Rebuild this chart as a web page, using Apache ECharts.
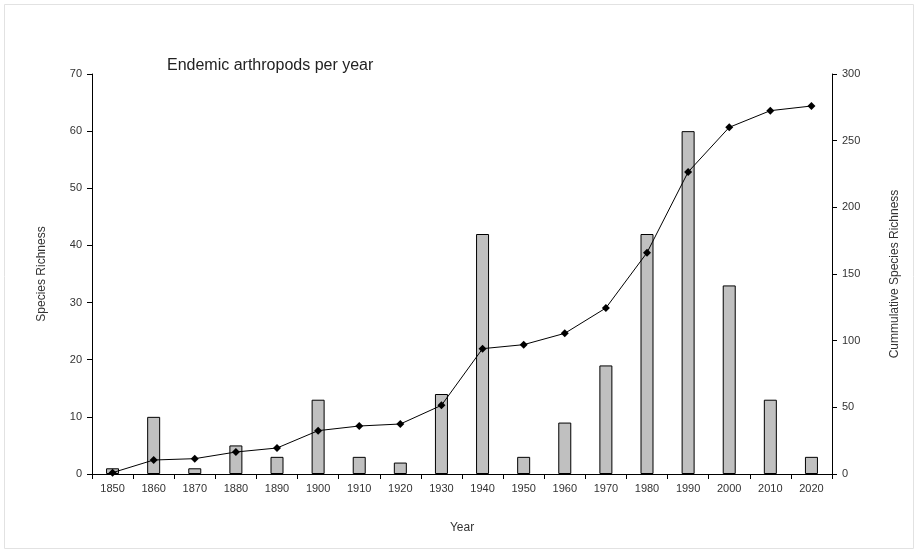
<!DOCTYPE html>
<html>
<head>
<meta charset="utf-8">
<script src="https://cdn.jsdelivr.net/npm/echarts@6/dist/echarts.min.js"></script>
<style>
    html, body { margin: 0; padding: 0; background: #fff; }
    #chart { width: 918px; height: 553px; }
</style>
</head>
<body>
<div id="chart"></div>
<script>
var years = ['1850', '1860', '1870', '1880', '1890', '1900', '1910', '1920', '1930',
    '1940', '1950', '1960', '1970', '1980', '1990', '2000', '2010', '2020'];
var speciesPerYear = [1, 10, 1, 5, 3, 13, 3, 2, 14, 42, 3, 9, 19, 42, 60, 33, 13, 3];
var cumulative = [1, 10.5, 11.5, 16.5, 19.5, 32.5, 36, 37.5, 51.5, 94, 97, 105.5, 124.5, 166, 226.5, 260, 272.5, 276];

var dom = document.getElementById('chart');
var myChart = echarts.init(dom);
var fontName = '"Liberation Sans", Arial, sans-serif';

var option = {
    animation: false,
    backgroundColor: '#fff',
    textStyle: { fontFamily: fontName },
    title: {
        text: 'Endemic arthropods per year',
        left: 162,
        top: 53,
        textStyle: { fontSize: 16, fontWeight: 'normal', color: '#222', fontFamily: fontName }
    },
    graphic: [
        {
            type: 'rect',
            shape: { x: 4.5, y: 4.5, width: 909, height: 544 },
            style: { fill: 'none', stroke: '#e2e2e2', lineWidth: 1 },
            silent: true
        }
    ],
    grid: { left: 92, right: 86, top: 74, bottom: 79 },
    xAxis: {
        type: 'category',
        data: years,
        name: 'Year',
        nameLocation: 'middle',
        nameGap: 48,
        nameTextStyle: { fontSize: 12, color: '#333' },
        axisLine: { lineStyle: { color: '#000', width: 1 } },
        axisTick: { show: true, alignWithLabel: false, length: 5, lineStyle: { color: '#000' } },
        axisLabel: { fontSize: 11, color: '#333', margin: 9, interval: 0 }
    },
    yAxis: [
        {
            type: 'value',
            min: 0,
            max: 70,
            interval: 10,
            name: 'Species Richness',
            nameLocation: 'middle',
            nameGap: 44,
            nameTextStyle: { fontSize: 12, color: '#333' },
            axisLine: { show: true, lineStyle: { color: '#000', width: 1 } },
            axisTick: { show: true, length: 5, lineStyle: { color: '#000' } },
            axisLabel: { fontSize: 11, color: '#333', margin: 10 },
            splitLine: { show: false }
        },
        {
            type: 'value',
            min: 0,
            max: 300,
            interval: 50,
            name: 'Cummulative Species Richness',
            nameLocation: 'middle',
            nameGap: 57,
            nameRotate: 90,
            nameTextStyle: { fontSize: 12, color: '#333' },
            axisLine: { show: true, lineStyle: { color: '#000', width: 1 } },
            axisTick: { show: true, length: 5, lineStyle: { color: '#000' } },
            axisLabel: { fontSize: 11, color: '#333', margin: 10 },
            splitLine: { show: false }
        }
    ],
    series: [
        {
            type: 'bar',
            yAxisIndex: 0,
            data: speciesPerYear,
            barWidth: 13,
            itemStyle: { color: '#c0c0c0', borderColor: '#000', borderWidth: 1 }
        },
        {
            type: 'line',
            yAxisIndex: 1,
            data: cumulative,
            symbol: 'diamond',
            symbolSize: 8,
            lineStyle: { color: '#000', width: 1 },
            itemStyle: { color: '#000' }
        }
    ]
};

if (option && typeof option === 'object') {
    myChart.setOption(option, true);
}
window.addEventListener('resize', myChart.resize);
</script>
</body>
</html>
